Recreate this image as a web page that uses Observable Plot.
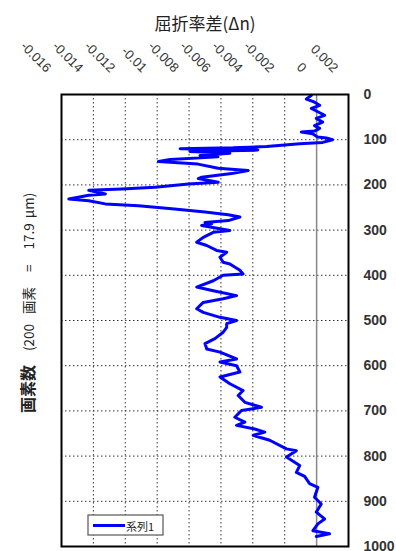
<!DOCTYPE html>
<html>
<head>
<meta charset="utf-8">
<script src="https://cdn.jsdelivr.net/npm/d3@7"></script>
<script src="https://cdn.jsdelivr.net/npm/@observablehq/plot@0.6"></script>
<style>
  html, body { margin: 0; padding: 0; background: #fff; }
  #chart { width: 396px; height: 551px; overflow: hidden; }
  svg { display: block; }
</style>
</head>
<body>
<div id="chart"></div>
<script>
// Pixel index (画素数) along the profile
const pixelIndex = [
  2, 10, 17, 24, 31, 42, 46, 53, 61, 69, 75, 81, 83, 87, 94, 96, 100, 106, 109, 115,
  118, 120, 123, 126, 130, 135, 138, 144, 148, 154, 163, 168, 175, 183, 186, 194, 198, 205, 209, 212,
  220, 223, 231, 235, 242, 246, 253, 260, 266, 271, 279, 283, 286, 290, 301, 305, 316, 327, 334, 345,
  349, 360, 371, 375, 389, 397, 400, 412, 426, 434, 445, 452, 460, 474, 482, 493, 500, 507, 515, 526,
  540, 551, 563, 570, 585, 592, 600, 614, 625, 640, 655, 666, 681, 692, 699, 714, 725, 732, 740, 747,
  754, 765, 784, 788, 802, 821, 836, 845, 861, 869, 891, 906, 924, 939, 950, 965, 972, 978
];
// Refractive index difference (Δn)
const deltaN = [
  -0.00033, -0.00064, -0.00013, 0.00019, -0.00033, 0.00029, 0.0005, -0.00002, 0.00038, -0.00013,
  0.00019, -0.00013, -0.00096, -0.00025, 0.00006, 0.00061, 0.001, 0.00038, -0.00106, -0.00314,
  -0.00525, -0.00856, -0.00369, -0.00794, -0.00544, -0.00731, -0.00619, -0.00919, -0.00992, -0.00744,
  -0.00617, -0.00429, -0.00533, -0.00721, -0.00742, -0.00617, -0.00804, -0.01013, -0.01221, -0.01429,
  -0.01325, -0.01429, -0.01554, -0.01429, -0.01325, -0.01117, -0.00908, -0.007, -0.00554, -0.00481,
  -0.00554, -0.007, -0.00658, -0.00721, -0.00544, -0.00648, -0.00711, -0.00752, -0.00689, -0.00627,
  -0.00564, -0.00606, -0.00586, -0.00544, -0.00481, -0.00461, -0.00586, -0.00648, -0.00752, -0.00648,
  -0.00502, -0.00586, -0.00711, -0.00752, -0.00711, -0.00606, -0.00502, -0.00564, -0.00564, -0.00586,
  -0.00638, -0.007, -0.00689, -0.00606, -0.00502, -0.00606, -0.00502, -0.00481, -0.00606, -0.00544,
  -0.00461, -0.00492, -0.0045, -0.00346, -0.00471, -0.00513, -0.0045, -0.00502, -0.00388, -0.00325,
  -0.00398, -0.00294, -0.00189, -0.00127, -0.00189, -0.00106, -0.00127, -0.00075, -0.00044, 0.00008,
  -0.00013, 0.00029, -0.00002, 0.0005, 0.00008, -0.00023, 0.00081, -0.00002
];
const xTicks = [-0.016, -0.014, -0.012, -0.01, -0.008, -0.006, -0.004, -0.002, 0, 0.002];
const xTickLabels = ["-0.016", "-0.014", "-0.012", "-0.01", "-0.008", "-0.006", "-0.004", "-0.002", "0", "0.002"];
const yTicks = [0, 100, 200, 300, 400, 500, 600, 700, 800, 900, 1000];
const yTickLabels = ["0", "100", "200", "300", "400", "500", "600", "700", "800", "900", "1000"];
const seriesNames = ["系列1"];
const xTitle = "屈折率差(Δn)";
const yTitleMain = "画素数";
const yTitleParts = ["(200", "画素", "=", "17.9", "μm)"];

const data = pixelIndex.map((p, i) => ({p, dn: deltaN[i]}));
const numFont = "'Liberation Sans', Arial, sans-serif";
const jpFont = "'Noto Sans CJK JP', sans-serif";

const chart = Plot.plot({
  width: 396,
  height: 551,
  marginLeft: 61,
  marginRight: 48,
  marginTop: 94,
  marginBottom: 5,
  x: {domain: [-0.016, 0.002], axis: null},
  y: {domain: [0, 1000], reverse: true, axis: null},
  style: {background: "white", fontFamily: numFont, overflow: "visible"},
  marks: [
    Plot.ruleX(xTicks.filter(d => d !== 0 && d > -0.016 && d < 0.002), {
      stroke: "#333", strokeWidth: 1, strokeDasharray: "1.5,2.5"
    }),
    Plot.ruleY(yTicks.filter(d => d > 0 && d < 1000), {
      stroke: "#333", strokeWidth: 1, strokeDasharray: "1.5,2.5"
    }),
    Plot.ruleX([0], {stroke: "#888", strokeWidth: 1.5}),
    Plot.line(data, {x: "dn", y: "p", stroke: "#0000ff", strokeWidth: 3, strokeLinejoin: "round"}),
    Plot.frame({stroke: "#000", strokeWidth: 2}),
    Plot.text(xTicks, {
      x: d => d, frameAnchor: "top", text: (d, i) => xTickLabels[i],
      rotate: 45, textAnchor: "end", dx: -9, dy: -28,
      fontSize: 13, fill: "#333", fontFamily: numFont
    }),
    Plot.text(yTicks, {
      y: d => d, frameAnchor: "right", text: (d, i) => yTickLabels[i],
      textAnchor: "start", dx: 15, fontSize: 14, fontWeight: "bold", fill: "#333", fontFamily: numFont
    })
  ]
});

document.getElementById("chart").appendChild(chart);

const svg = d3.select(chart);

// Top axis title
svg.append("text")
  .attr("x", 205).attr("y", 30)
  .attr("text-anchor", "middle")
  .attr("font-family", jpFont)
  .attr("font-size", 17)
  .attr("fill", "#222")
  .text(xTitle);

// Left axis title (rotated)
const lt = svg.append("text")
  .attr("transform", "translate(34,413) rotate(-90)")
  .attr("text-anchor", "start")
  .attr("font-family", jpFont)
  .attr("fill", "#222");
lt.append("tspan").attr("font-size", 16).attr("font-weight", "bold").text(yTitleMain);
const gaps = [14, 10, 15, 15, 5];
yTitleParts.forEach((s, i) => {
  lt.append("tspan").attr("font-size", 13.5).attr("dx", gaps[i]).text(s);
});

// Legend
const lg = svg.append("g");
lg.append("rect")
  .attr("x", 88).attr("y", 515).attr("width", 75).attr("height", 20)
  .attr("fill", "white").attr("stroke", "#555").attr("stroke-width", 1.2);
lg.append("line")
  .attr("x1", 93).attr("x2", 125).attr("y1", 525.5).attr("y2", 525.5)
  .attr("stroke", "#0000ff").attr("stroke-width", 3);
lg.append("text")
  .attr("x", 126).attr("y", 525.5)
  .attr("text-anchor", "start")
  .attr("dominant-baseline", "central")
  .attr("font-family", jpFont)
  .attr("font-size", 11)
  .attr("fill", "#222")
  .text(seriesNames[0]);
</script>
</body>
</html>
